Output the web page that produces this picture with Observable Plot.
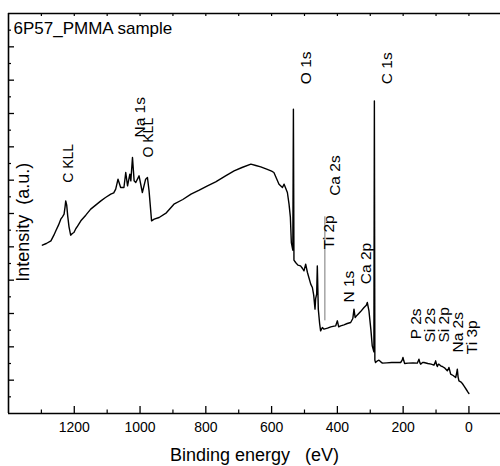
<!DOCTYPE html>
<html>
<head>
<meta charset="utf-8">
<script src="https://cdn.jsdelivr.net/npm/d3@7"></script>
<script src="https://cdn.jsdelivr.net/npm/@observablehq/plot@0.6"></script>
<style>
  html, body { margin: 0; padding: 0; background: #fff; }
  #chart { width: 500px; height: 466px; }
</style>
</head>
<body>
<div id="chart"></div>
<script>
// ---- data ----
const title = "6P57_PMMA sample";
const xLabel = "Binding energy\u00a0\u00a0\u00a0(eV)";
const yLabel = "Intensity\u00a0\u00a0(a.u.)";
const xDomain = [1400, -96];
const yDomain = [0, 12];
const xTickLabels = [0, 200, 400, 600, 800, 1000, 1200];
const xMinorTicks = [100, 300, 500, 700, 900, 1100, 1300];
const xTopTicks = [0, 100, 200, 300, 400, 500, 600, 700, 800, 900, 1000, 1100, 1200, 1300];
const yMajorTicks = [1, 2, 3, 4, 5, 6, 7, 8, 9, 10, 11];
const yMinorTicks = [0.5, 1.5, 2.5, 3.5, 4.5, 5.5, 6.5, 7.5, 8.5, 9.5, 10.5, 11.5];

// binding energy (eV) and intensity (a.u.) of the survey spectrum
const energy = [
  1297, 1285, 1271, 1262, 1256, 1248, 1241, 1236, 1231, 1228, 1226, 1223, 1220, 1216, 1211, 1206, 1201,
  1195, 1190, 1180, 1165, 1150, 1135, 1120, 1105, 1089, 1080, 1074, 1067, 1059, 1049, 1043.5, 1038, 1031,
  1028, 1023, 1018, 1013, 1003, 993, 983, 977.5, 972.6, 965, 957, 942, 920, 897, 870, 845, 820, 795,
  770, 740, 714, 690, 663, 648, 633, 615, 600, 593, 577.5, 567, 562, 552, 547, 543, 540, 535.5, 533.7,
  532, 527, 520, 512, 506, 501.5, 496.4, 491, 481, 476, 472, 468, 466, 463, 461, 458, 454, 451, 445.6,
  440.7, 430, 420, 410, 405, 400, 396, 390, 380, 370, 359.6, 353, 349.5, 346, 340, 330, 319, 312, 309,
  304, 298, 294, 289, 287.5, 286, 284, 278, 273.6, 268, 263, 250, 235, 220, 207.6, 203, 200.6, 198,
  195.4, 185, 170, 157, 154, 152, 149, 146.8, 141, 136.8, 125, 115, 106.4, 103, 101.2, 98, 96, 93, 91.2,
  86, 80.9, 73, 65.7, 62.5, 60.8, 58, 55.6, 48, 40.4, 37.5, 35.3, 33, 30.4, 25, 20, 15.2, 8, 3, 0
];
const intensity = [
  5.05, 5.10, 5.18, 5.35, 5.48, 5.65, 5.83, 5.90, 5.98, 6.20, 6.38, 6.25, 5.93, 5.60, 5.35, 5.40, 5.43,
  5.55, 5.62, 5.78, 5.95, 6.13, 6.25, 6.37, 6.48, 6.58, 6.62, 6.73, 7.03, 6.78, 6.78, 7.23, 6.83, 7.18,
  6.98, 7.68, 6.98, 6.93, 7.13, 6.63, 7.03, 7.08, 6.68, 5.78, 5.83, 5.88, 6.02, 6.28, 6.42, 6.58, 6.70, 6.83,
  6.95, 7.13, 7.28, 7.38, 7.48, 7.44, 7.40, 7.33, 7.27, 7.23, 6.88, 6.78, 6.88, 6.63, 6.28, 5.90, 5.13, 4.90, 9.13,
  4.60, 4.53, 4.45, 4.43, 4.35, 4.28, 4.48, 4.23, 3.88, 3.78, 3.55, 3.13, 3.45, 3.58, 4.43, 3.13, 2.70, 2.48, 2.58,
  2.53, 2.56, 2.60, 2.62, 2.63, 2.78, 2.60, 2.63, 2.66, 2.70, 2.73, 2.85, 3.13, 2.88, 2.95, 3.05, 3.18, 3.25, 3.33,
  3.08, 2.50, 2.03, 1.85, 9.38, 1.60, 1.53, 1.58, 1.60, 1.55, 1.51, 1.52, 1.53, 1.53, 1.53, 1.60, 1.68, 1.58,
  1.50, 1.51, 1.52, 1.51, 1.58, 1.63, 1.52, 1.48, 1.53, 1.53, 1.50, 1.48, 1.45, 1.52, 1.58, 1.45, 1.41, 1.48, 1.48,
  1.43, 1.41, 1.36, 1.28, 1.34, 1.38, 1.28, 1.18, 1.14, 1.08, 1.20, 1.33, 1.10, 0.98, 0.95, 0.90, 0.83, 0.72, 0.64, 0.60
];

// peak annotations: label, energy position, intensity where the label starts
const peakLabels = ["C KLL", "Na 1s", "O KLL", "O 1s", "C 1s", "Ca 2s", "Ti 2p", "N 1s", "Ca 2p", "P 2s", "Si 2s", "Si 2p", "Na 2s", "Ti 3p"];
const peakEnergy = [1218, 1001, 973, 496, 248, 408, 425, 365, 314, 162, 118, 77, 33, -8];
const peakIntensity = [6.92, 8.28, 7.68, 9.88, 9.88, 6.53, 4.93, 3.33, 3.88, 2.23, 2.13, 2.13, 1.83, 1.78];

// grey guide line under the Ti 2p label
const guideEnergy = [438];
const guideFrom = [2.78];
const guideTo = [5.90];

// ---- build tables ----
const spectrum = energy.map((e, i) => ({e, v: intensity[i]}));
const labels = peakLabels.map((t, i) => ({t, e: peakEnergy[i], v: peakIntensity[i]}));
const guides = guideEnergy.map((e, i) => ({e, y1: guideFrom[i], y2: guideTo[i]}));
const isAuger = d => d.t.includes("KLL");

const font = "'Liberation Sans', Arial, Helvetica, sans-serif";

const chart = Plot.plot({
  width: 500,
  height: 466,
  marginLeft: 8,
  marginRight: 0,
  marginTop: 13,
  marginBottom: 53,
  style: {fontFamily: font, color: "#000", background: "#fff", overflow: "visible"},
  x: {domain: xDomain, axis: null},
  y: {domain: yDomain, axis: null},
  marks: [
    // frame (left, bottom, top)
    Plot.ruleX([xDomain[0]], {strokeWidth: 1.6}),
    Plot.ruleY([yDomain[0]], {strokeWidth: 1.6}),
    Plot.ruleY([yDomain[1]], {strokeWidth: 1.6}),
    // inward ticks
    Plot.tickX(xTickLabels, {x: d => d, insetTop: 393, strokeWidth: 1.3}),
    Plot.tickX(xMinorTicks, {x: d => d, insetTop: 396.5, strokeWidth: 1.2}),
    Plot.tickX(xTopTicks, {x: d => d, insetBottom: 397, strokeWidth: 1.2}),
    Plot.tickY(yMajorTicks, {y: d => d, insetRight: 486, strokeWidth: 1.3}),
    Plot.tickY(yMinorTicks, {y: d => d, insetRight: 489, strokeWidth: 1.2}),
    // tick labels
    Plot.text(xTickLabels, {x: d => d, text: d => String(d), frameAnchor: "bottom", dy: 14.5, fontSize: 14, lineAnchor: "middle"}),
    // axis titles
    Plot.text([xLabel], {frameAnchor: "bottom", dy: 42, fontSize: 18, textAnchor: "middle", lineAnchor: "middle"}),
    Plot.text([yLabel], {frameAnchor: "left", dx: 14.5, dy: 8.7, rotate: -90, fontSize: 18, textAnchor: "middle", lineAnchor: "middle"}),
    Plot.text([title], {frameAnchor: "top-left", dx: 5, dy: 8, fontSize: 17, textAnchor: "start", lineAnchor: "top"}),
    // guide line
    Plot.ruleX(guides, {x: "e", y1: "y1", y2: "y2", stroke: "#777", strokeWidth: 1}),
    // spectrum
    Plot.line(spectrum, {x: "e", y: "v", stroke: "#000", strokeWidth: 1.4, strokeLinejoin: "round"}),
    // peak labels
    Plot.text(labels.filter(d => !isAuger(d)), {x: "e", y: "v", text: "t", rotate: -90, textAnchor: "start", lineAnchor: "middle", fontSize: 15.5}),
    Plot.text(labels.filter(isAuger), {x: "e", y: "v", text: "t", rotate: -90, textAnchor: "start", lineAnchor: "middle", fontSize: 14})
  ]
});
document.getElementById("chart").appendChild(chart);
</script>
</body>
</html>
